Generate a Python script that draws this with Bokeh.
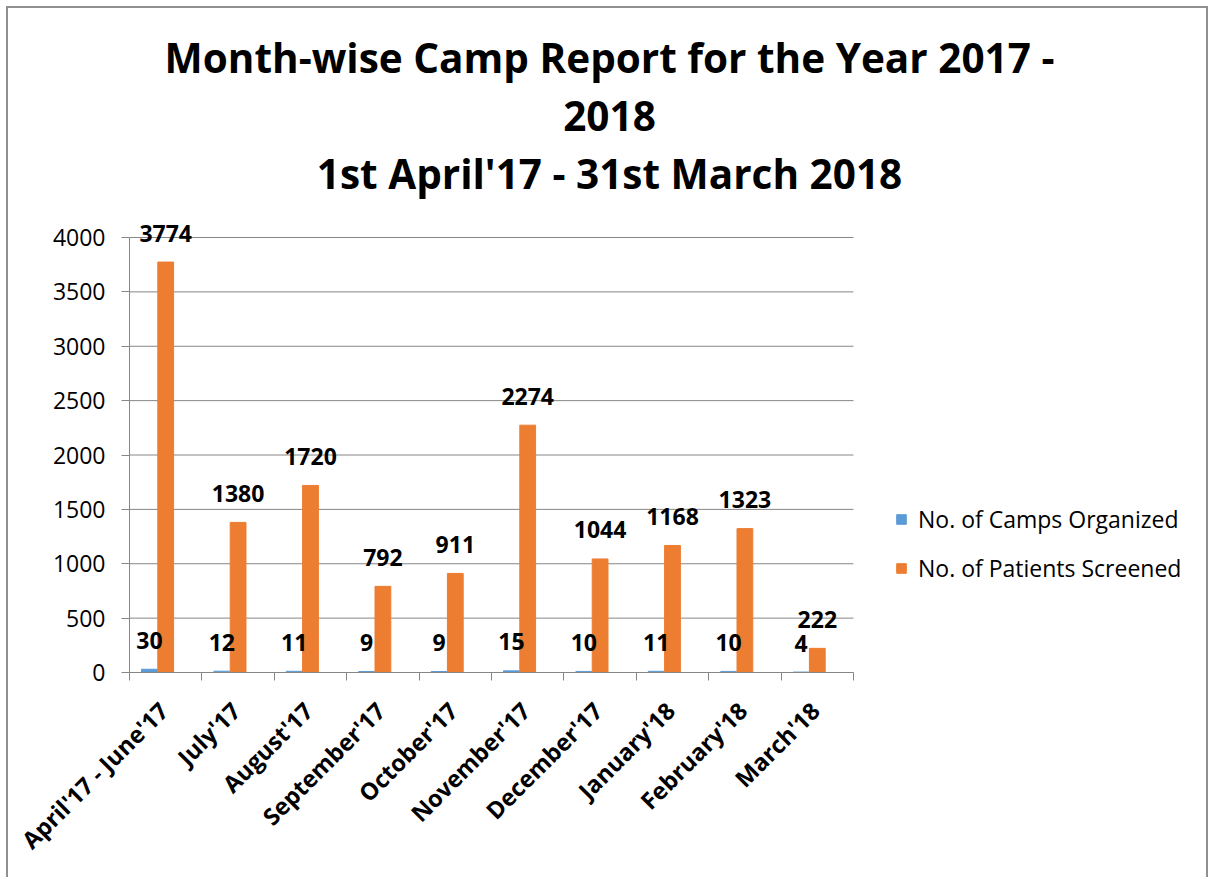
import numpy as np
from bokeh.plotting import figure
from bokeh.models import Range1d, FixedTicker, Legend, LegendItem, Label
from bokeh.core.properties import value
from bokeh.embed import file_html
from bokeh.resources import INLINE

# ---------------- data ----------------
categories = ["April'17 - June'17", "July'17", "August'17", "September'17", "October'17",
              "November'17", "December'17", "January'18", "February'18", "March'18"]
camps = [30, 12, 11, 9, 9, 15, 10, 11, 10, 4]
patients = [3774, 1380, 1720, 792, 911, 2274, 1044, 1168, 1323, 222]
series_names = ["No. of Camps Organized", "No. of Patients Screened"]
y_ticks = [0, 500, 1000, 1500, 2000, 2500, 3000, 3500, 4000]
title_lines = ["Month-wise Camp Report for the Year 2017 -", "2018",
               "1st April'17 - 31st March 2018"]

# ---------------- styles ----------------
BLUE = "#5B9BD5"
ORANGE = "#ED7D31"
GRID = "#868686"
EDGE = "2px solid #8f8f8f"
FONT = "Open Sans"

n = len(categories)
centers = np.arange(n) + 0.5
bar_w = 0.218
blue_x = centers - 0.225
label_shift = -0.03
y_max = max(y_ticks)

# frame covers the whole area right of / above the axes; extra room holds title & legend
x_end = 1081 / 72.4
y_end = 664 / 435 * y_max

p = figure(width=1202, height=871, output_backend="svg", toolbar_location=None,
           x_range=Range1d(0, x_end), y_range=Range1d(0, y_end),
           min_border_left=121, min_border_right=0, min_border_top=0,
           min_border_bottom=207)
p.styles = {"margin-left": "6px", "margin-top": "6px",
            "border-top": EDGE, "border-left": EDGE, "border-right": EDGE}
p.outline_line_color = None
p.background_fill_color = "white"
p.border_fill_color = "white"
p.xgrid.visible = False
p.ygrid.visible = False

# horizontal gridlines over the category span
p.segment(x0=[0] * len(y_ticks), x1=[n] * len(y_ticks), y0=y_ticks, y1=y_ticks,
          line_color=GRID, line_width=1)

r1 = p.vbar(x=blue_x, top=camps, width=bar_w, color=BLUE)
r2 = p.vbar(x=centers, top=patients, width=bar_w, color=ORANGE)

lab_kw = dict(text_align="center", text_baseline="alphabetic", y_offset=-29,
              text_font=value(FONT), text_font_style="bold", text_font_size="23px",
              text_color="black")
p.text(x=blue_x, y=camps, text=[str(v) for v in camps], **lab_kw)
p.text(x=centers, y=patients, text=[str(v) for v in patients], **lab_kw)

# y axis
ya = p.yaxis[0]
ya.ticker = FixedTicker(ticks=y_ticks)
ya.bounds = (0, y_max)
ya.axis_line_color = GRID
ya.major_tick_line_color = GRID
ya.major_tick_out = 8
ya.major_tick_in = 0
ya.minor_tick_line_color = None
ya.major_label_text_font = FONT
ya.major_label_text_font_size = "23px"
ya.major_label_text_color = "black"
ya.major_label_standoff = 16

# x axis
xa = p.xaxis[0]
tick_pos = [float(c + label_shift) for c in centers]
xa.ticker = FixedTicker(ticks=tick_pos, minor_ticks=[float(i) for i in range(n + 1)])
xa.bounds = (0, n)
xa.major_label_overrides = {t: c for t, c in zip(tick_pos, categories)}
xa.axis_line_color = GRID
xa.major_tick_line_color = None
xa.minor_tick_line_color = GRID
xa.minor_tick_out = 8
xa.minor_tick_in = 0
xa.major_label_orientation = np.pi / 4
xa.major_label_text_font = FONT
xa.major_label_text_font_style = "bold"
xa.major_label_text_font_size = "23.5px"
xa.major_label_text_color = "black"
xa.major_label_standoff = 26

# legend
legend = Legend(items=[LegendItem(label=series_names[0], renderers=[r1]),
                       LegendItem(label=series_names[1], renderers=[r2])],
                location=(766, 88))
legend.background_fill_alpha = 0
legend.border_line_color = None
legend.padding = 0
legend.margin = 0
legend.glyph_width = 12
legend.glyph_height = 12
legend.label_height = 24
legend.spacing = 17
legend.label_standoff = 11
legend.label_text_font = FONT
legend.label_text_font_size = "23px"
legend.label_text_color = "black"
p.add_layout(legend, "center")

# title lines
for txt, yy in zip(title_lines, [615, 557, 499]):
    p.add_layout(Label(x=480, y=yy, x_units="screen", y_units="screen", text=txt,
                       text_align="center", text_baseline="alphabetic",
                       text_font=FONT, text_font_style="bold",
                       text_font_size="40.5px", text_color="black"))

open("out.html", "w").write(file_html(p, INLINE))
